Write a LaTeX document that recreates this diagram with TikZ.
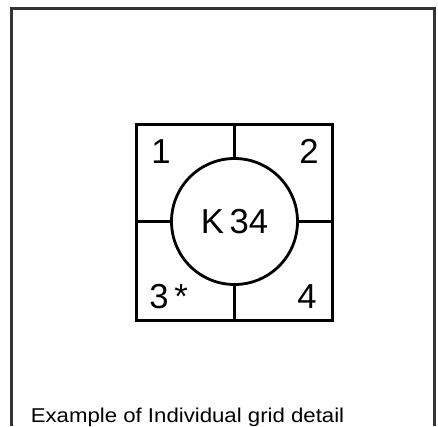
\documentclass[tikz,border=0pt]{standalone}
\usepackage{fontspec}
\setmainfont{Liberation Sans}
\usetikzlibrary{calc}

\tikzset{
    gridline/.style={black, line width=2.1pt},
    framing/.style={black!80, line width=2.2pt},
    celltext/.style={anchor=base west, inner sep=0pt, font=\fontsize{26}{30}\selectfont}
}

\begin{document}
\begin{tikzpicture}[x=0.75pt, y=-0.75pt]
\useasboundingbox (0,0) rectangle (438,426);
% open frame round the detail
\coordinate (FL) at (11.3,426);
\coordinate (FTL) at (11.3,8.7);
\coordinate (FTR) at (434.3,8.7);
\coordinate (FR) at (434.3,426);
\draw[framing] (FL) -- (FTL) -- (FTR) -- (FR);
% the grid square and its centre circle
\node[draw, gridline, minimum size=147pt, inner sep=0pt] (cell) at (234.8,222.5) {};
\node[draw, gridline, circle, minimum size=94.5pt, inner sep=0pt,
      font=\fontsize{26}{30}\selectfont] (hub) at (234.5,221.5) {K\,34};
\draw[gridline] (hub.north |- cell.north) -- (hub.north);
\draw[gridline] (hub.south |- cell.south) -- (hub.south);
\draw[gridline] (hub.west -| cell.west) -- (hub.west);
\draw[gridline] (hub.east -| cell.east) -- (hub.east);
% quarter numbers
\node[celltext] (q1) at (151,163) {1};
\node[celltext] (q2) at (299,163) {2};
\node[celltext] (q3) at (149,308) {3\,*};
\node[celltext] (q4) at (297,308) {4};
% caption
\node[anchor=base west, inner sep=0pt, xscale=1.11, font=\fontsize{15}{18}\selectfont]
    (caption) at (30.5,422) {Example of Individual grid detail};
\end{tikzpicture}
\end{document}
